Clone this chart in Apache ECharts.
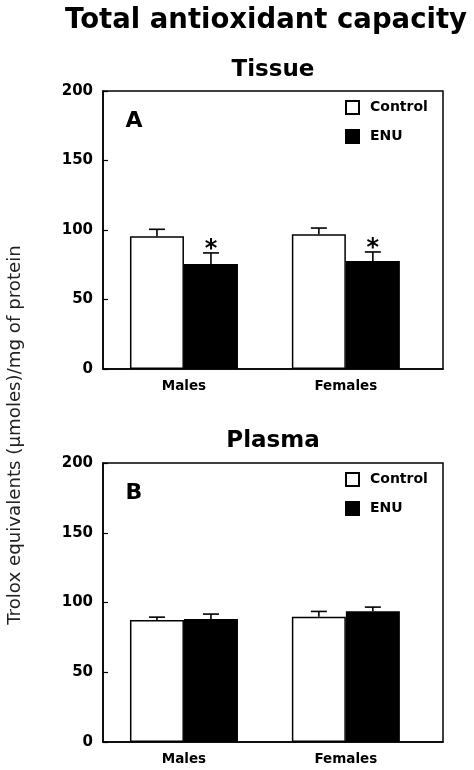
<!DOCTYPE html>
<html>
<head>
<meta charset="utf-8">
<script src="https://cdn.jsdelivr.net/npm/echarts@6/dist/echarts.min.js"></script>
<style>
html,body{margin:0;padding:0;background:#fff;}
#chart{width:474px;height:770px;}
</style>
</head>
<body>
<div id="chart"></div>
<script>
// ---- data ----
const categories = ['Males', 'Females'];
const categoryPos = [0.5, 1.5];
const seriesNames = ['Control', 'ENU'];
const yTicks = [0, 50, 100, 150, 200];

const tissueControl = [95.5, 96.9];
const tissueControlErr = [5.0, 4.5];
const tissueENU = [75.5, 77.7];
const tissueENUErr = [8.0, 6.5];
const tissueENUSig = ['*', '*'];

const plasmaControl = [87.4, 89.8];
const plasmaControlErr = [2.1, 3.8];
const plasmaENU = [88.1, 93.8];
const plasmaENUErr = [3.6, 2.9];
const plasmaENUSig = ['', ''];

// ---- chart ----
const FONT = 'DejaVu Sans, Liberation Sans, Arial, sans-serif';
const BAR_W = 54;
const chart = echarts.init(document.getElementById('chart'), null, {renderer: 'canvas'});

function pairs(vals) { return vals.map((v, i) => [categoryPos[i], v]); }
function errData(vals, errs, sig) { return vals.map((v, i) => [categoryPos[i], v, errs[i], sig ? sig[i] : '']); }

function errSeries(idx, vals, errs, sig, offset) {
  return {
    type: 'custom', xAxisIndex: idx, yAxisIndex: idx, z: 5,
    data: errData(vals, errs, sig),
    renderItem: function (params, api) {
      const x = api.value(0), v = api.value(1), e = api.value(2);
      const s = sig ? sig[params.dataIndex] : '';
      const base = api.coord([x, v]);
      const top = api.coord([x, v + e]);
      const cx = base[0] + offset;
      const children = [
        {type: 'line', shape: {x1: cx, y1: base[1], x2: cx, y2: top[1]}, style: {stroke: '#000', lineWidth: 1.6}},
        {type: 'line', shape: {x1: cx - 8, y1: top[1], x2: cx + 8, y2: top[1]}, style: {stroke: '#000', lineWidth: 1.6}}
      ];
      if (s) {
        children.push({type: 'text', x: cx, y: top[1] + 9, style: {text: s, font: 'bold 24px ' + FONT, fill: '#000', textAlign: 'center', textVerticalAlign: 'bottom'}});
      }
      return {type: 'group', children: children};
    }
  };
}

function xAxisCfg(idx) {
  return {
    gridIndex: idx, type: 'value', min: 0, max: 2.1, interval: 0.5,
    axisLine: {show: true, lineStyle: {color: '#000', width: 1.5}},
    axisTick: {show: false}, splitLine: {show: false},
    axisLabel: {
      color: '#000', fontFamily: FONT, fontWeight: 'bold', fontSize: 13.5, margin: 10,
      showMinLabel: false, showMaxLabel: false,
      formatter: function (v) { const k = categoryPos.indexOf(v); return k >= 0 ? categories[k] : ''; }
    }
  };
}
function yAxisCfg(idx) {
  return {
    gridIndex: idx, type: 'value', min: yTicks[0], max: yTicks[yTicks.length - 1], interval: yTicks[1] - yTicks[0],
    axisLine: {show: true, lineStyle: {color: '#000', width: 1.5}},
    axisTick: {show: true, inside: true, length: 5, lineStyle: {color: '#000', width: 1.2}},
    splitLine: {show: false},
    axisLabel: {color: '#000', fontFamily: FONT, fontWeight: 'bold', fontSize: 15, margin: 10}
  };
}
function legendCfg(top) {
  return {
    orient: 'vertical', left: 340, top: top, itemWidth: 13, itemHeight: 13, itemGap: 14, icon: 'rect',
    data: seriesNames, selectedMode: false,
    textStyle: {color: '#000', fontFamily: FONT, fontWeight: 'bold', fontSize: 14, padding: [0, 0, 0, 6]}
  };
}
const ctrlStyle = {color: '#fff', borderColor: '#000', borderWidth: 1.5};
const enuStyle = {color: '#000', borderColor: '#000', borderWidth: 1.5};

const option = {
  backgroundColor: '#fff',
  animation: false,
  grid: [
    {left: 103, top: 91, width: 340, height: 278, show: true, borderColor: '#000', borderWidth: 1.5, backgroundColor: 'transparent'},
    {left: 103, top: 463, width: 340, height: 279, show: true, borderColor: '#000', borderWidth: 1.5, backgroundColor: 'transparent'}
  ],
  xAxis: [xAxisCfg(0), xAxisCfg(1)],
  yAxis: [yAxisCfg(0), yAxisCfg(1)],
  legend: [legendCfg(95), legendCfg(467)],
  series: [
    {name: 'Control', type: 'bar', xAxisIndex: 0, yAxisIndex: 0, barWidth: BAR_W, barGap: '0%', itemStyle: ctrlStyle, data: pairs(tissueControl)},
    {name: 'ENU', type: 'bar', xAxisIndex: 0, yAxisIndex: 0, barWidth: BAR_W, barGap: '0%', itemStyle: enuStyle, data: pairs(tissueENU)},
    {name: 'Control', type: 'bar', xAxisIndex: 1, yAxisIndex: 1, barWidth: BAR_W, barGap: '0%', itemStyle: ctrlStyle, data: pairs(plasmaControl)},
    {name: 'ENU', type: 'bar', xAxisIndex: 1, yAxisIndex: 1, barWidth: BAR_W, barGap: '0%', itemStyle: enuStyle, data: pairs(plasmaENU)},
    errSeries(0, tissueControl, tissueControlErr, null, -BAR_W / 2),
    errSeries(0, tissueENU, tissueENUErr, tissueENUSig, BAR_W / 2),
    errSeries(1, plasmaControl, plasmaControlErr, null, -BAR_W / 2),
    errSeries(1, plasmaENU, plasmaENUErr, plasmaENUSig, BAR_W / 2)
  ],
  graphic: [
    {type: 'text', x: 266, y: 21, style: {text: 'Total antioxidant capacity', font: 'bold 27.5px ' + FONT, fill: '#000', textAlign: 'center', textVerticalAlign: 'middle'}},
    {type: 'text', x: 273, y: 70, style: {text: 'Tissue', font: 'bold 23px ' + FONT, fill: '#000', textAlign: 'center', textVerticalAlign: 'middle'}},
    {type: 'text', x: 273, y: 441, style: {text: 'Plasma', font: 'bold 23px ' + FONT, fill: '#000', textAlign: 'center', textVerticalAlign: 'middle'}},
    {type: 'text', x: 134, y: 121, style: {text: 'A', font: 'bold 22px ' + FONT, fill: '#000', textAlign: 'center', textVerticalAlign: 'middle'}},
    {type: 'text', x: 134, y: 493, style: {text: 'B', font: 'bold 22px ' + FONT, fill: '#000', textAlign: 'center', textVerticalAlign: 'middle'}},
    {type: 'text', x: 15, y: 435, rotation: Math.PI / 2, style: {text: 'Trolox equivalents (\u00b5moles)/mg of protein', font: '18.2px ' + FONT, fill: '#222', textAlign: 'center', textVerticalAlign: 'middle'}}
  ]
};
chart.setOption(option);
</script>
</body>
</html>
